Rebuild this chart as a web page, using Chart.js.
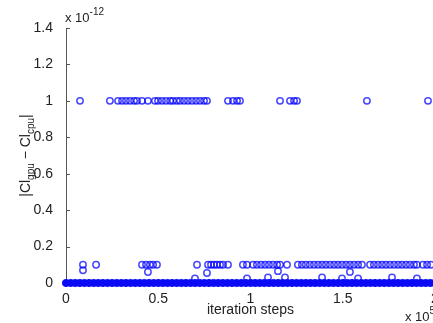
<!DOCTYPE html>
<html lang="en">
  <head>
    <meta charset="UTF-8" />
    <title>|Cl gpu - Cl cpu| over iteration steps</title>
    <style>
      html,
      body {
        margin: 0;
        padding: 0;
        background: #fff;
        overflow: hidden;
      }
      #wrap {
        width: 445px;
        height: 323px;
      }
    </style>
  </head>
  <body>
    <div id="wrap"><canvas id="diffChart" width="445" height="323"></canvas></div>

    <script src="https://cdn.jsdelivr.net/npm/chart.js@4/dist/chart.umd.min.js"></script>
    <script>
      // x: iteration steps (x 1e5), y: |Cl_gpu - Cl_cpu| (x 1e-12)
      var stepsAtOne = [
        0.076, 0.238, 0.282, 0.304, 0.325, 0.347, 0.369, 0.385, 0.412, 0.444,
        0.482, 0.499, 0.52, 0.542, 0.564, 0.58, 0.6, 0.618, 0.64, 0.661, 0.683,
        0.705, 0.726, 0.748, 0.764, 0.878, 0.905, 0.927, 0.943, 1.16, 1.214,
        1.236, 1.252, 1.631, 1.962,
      ];
      var stepsAtTenth = [
        0.092, 0.163, 0.412, 0.434, 0.455, 0.472, 0.493, 0.71, 0.77, 0.786,
        0.802, 0.818, 0.835, 0.851, 0.878, 0.959, 0.981, 1.014, 1.035, 1.057,
        1.079, 1.1, 1.122, 1.144, 1.16, 1.198, 1.257, 1.279, 1.3, 1.322, 1.344,
        1.366, 1.388, 1.409, 1.431, 1.453, 1.474, 1.496, 1.518, 1.539, 1.561,
        1.583, 1.604, 1.648, 1.669, 1.691, 1.713, 1.734, 1.756, 1.778, 1.8,
        1.821, 1.843, 1.864, 1.886, 1.902, 1.935, 1.957, 1.978,
      ];
      var stepsLow = [
        0.092, 0.444, 0.764, 1.149, 1.539, 0.699, 0.981, 1.095, 1.187, 1.388,
        1.496, 1.583, 1.767, 1.902,
      ];
      var diffLow = [
        0.07, 0.06, 0.055, 0.065, 0.06, 0.025, 0.025, 0.03, 0.03, 0.03, 0.025,
        0.025, 0.03, 0.025,
      ];
      var stepsAtZero = [
        0, 0.025, 0.05, 0.075, 0.1, 0.125, 0.15, 0.175, 0.2, 0.225, 0.25,
        0.275, 0.3, 0.325, 0.35, 0.375, 0.4, 0.425, 0.45, 0.475, 0.5, 0.525,
        0.55, 0.575, 0.6, 0.625, 0.65, 0.675, 0.7, 0.725, 0.75, 0.775, 0.8,
        0.825, 0.85, 0.875, 0.9, 0.925, 0.95, 0.975, 1, 1.025, 1.05, 1.075,
        1.1, 1.125, 1.15, 1.175, 1.2, 1.225, 1.25, 1.275, 1.3, 1.325, 1.35,
        1.375, 1.4, 1.425, 1.45, 1.475, 1.5, 1.525, 1.55, 1.575, 1.6, 1.625,
        1.65, 1.675, 1.7, 1.725, 1.75, 1.775, 1.8, 1.825, 1.85, 1.875, 1.9,
        1.925, 1.95, 1.975, 2,
      ];
      var xTicks = [0, 0.5, 1, 1.5, 2];
      var yTicks = [0, 0.2, 0.4, 0.6, 0.8, 1, 1.2, 1.4];

      var FONT = '"Liberation Sans", Arial, sans-serif';
      var INK = "#222";
      var MARK = "rgba(0, 0, 255, 0.72)";
      var BAND = "#0a0af5";

      function pointsAt(xs, y) {
        return xs.map(function (x) {
          return { x: x, y: y };
        });
      }

      var lowPoints = stepsLow.map(function (x, i) {
        return { x: x, y: diffLow[i] };
      });

      // draws a run of text pieces (for sub/superscripts), left aligned
      function drawPieces(ctx, pieces, x, y) {
        pieces.forEach(function (p) {
          ctx.font = p.size + "px " + FONT;
          ctx.fillText(p.t, x, y + (p.dy || 0));
          x += ctx.measureText(p.t).width;
        });
      }

      function piecesWidth(ctx, pieces) {
        var w = 0;
        pieces.forEach(function (p) {
          ctx.font = p.size + "px " + FONT;
          w += ctx.measureText(p.t).width;
        });
        return w;
      }

      var axisDecor = {
        id: "axisDecor",
        beforeDatasetsDraw: function (chart) {
          var ctx = chart.ctx;
          var area = chart.chartArea;
          var xs = chart.scales.x;
          var ys = chart.scales.y;
          ctx.save();
          ctx.strokeStyle = "#555";
          ctx.lineWidth = 1;
          ctx.beginPath();
          yTicks.forEach(function (v) {
            var y = Math.round(ys.getPixelForValue(v)) + 0.5;
            ctx.moveTo(area.left, y);
            ctx.lineTo(area.left + 4, y);
          });
          xTicks.forEach(function (v) {
            var x = Math.round(xs.getPixelForValue(v)) + 0.5;
            ctx.moveTo(x, area.bottom);
            ctx.lineTo(x, area.bottom - 4);
          });
          ctx.stroke();
          ctx.restore();
        },
        afterDraw: function (chart) {
          var ctx = chart.ctx;
          var area = chart.chartArea;
          ctx.save();
          ctx.fillStyle = INK;
          ctx.textBaseline = "middle";

          // exponent of the y axis
          drawPieces(ctx, [{ t: "x 10", size: 13 }, { t: "-12", size: 10, dy: -6 }], 65, 18);

          // exponent of the x axis
          drawPieces(ctx, [{ t: "x 10", size: 13 }, { t: "5", size: 10, dy: -6 }], 405, 317);

          // x axis title
          ctx.font = "14px " + FONT;
          ctx.textAlign = "center";
          ctx.fillText("iteration steps", (area.left + area.right) / 2, 310);

          // y axis title, rotated
          var yTitle = [
            { t: "|Cl", size: 14 },
            { t: "gpu", size: 10, dy: 4 },
            { t: " \u2212 Cl", size: 14 },
            { t: "cpu", size: 10, dy: 4 },
            { t: "|", size: 14 },
          ];
          ctx.textAlign = "left";
          ctx.textBaseline = "alphabetic";
          ctx.translate(30, (area.top + area.bottom) / 2);
          ctx.rotate(-Math.PI / 2);
          drawPieces(ctx, yTitle, -piecesWidth(ctx, yTitle) / 2, 0);
          ctx.restore();
        },
      };

      function markerSet(data, radius, border, color, fill) {
        return {
          data: data,
          pointStyle: "circle",
          pointRadius: radius,
          pointHoverRadius: radius,
          pointBorderWidth: border,
          pointBorderColor: color,
          pointBackgroundColor: fill || "rgba(0,0,0,0)",
          clip: false,
        };
      }

      function createChart() {
        var ctx = document.getElementById("diffChart").getContext("2d");
        var diffChart = new Chart(ctx, {
          type: "scatter",
          data: {
            datasets: [
              // the zero run is so dense that its circles merge into one band
              markerSet(pointsAt(stepsAtZero, 0), 3.6, 1, BAND, BAND),
              markerSet(lowPoints, 3.2, 1.5, MARK),
              markerSet(pointsAt(stepsAtTenth, 0.1), 3.2, 1.5, MARK),
              markerSet(pointsAt(stepsAtOne, 1), 3.2, 1.5, MARK),
            ],
          },
          options: {
            responsive: false,
            animation: false,
            events: [],
            layout: { padding: { top: 28, right: 10, left: 0, bottom: 0 } },
            plugins: {
              legend: { display: false },
              tooltip: { enabled: false },
            },
            scales: {
              x: {
                type: "linear",
                min: 0,
                max: 2,
                afterBuildTicks: function (scale) {
                  scale.ticks = xTicks.map(function (v) {
                    return { value: v };
                  });
                },
                afterFit: function (scale) {
                  scale.height = 40;
                },
                grid: { display: false },
                border: { display: true, color: "#555", width: 1 },
                ticks: {
                  color: INK,
                  padding: 0,
                  maxRotation: 0,
                  autoSkip: false,
                  font: { family: FONT, size: 14 },
                  callback: function (v) {
                    return String(v);
                  },
                },
              },
              y: {
                min: 0,
                max: 1.4,
                afterBuildTicks: function (scale) {
                  scale.ticks = yTicks.map(function (v) {
                    return { value: v };
                  });
                },
                afterFit: function (scale) {
                  scale.width = 66;
                },
                grid: { display: false },
                border: { display: true, color: "#555", width: 1 },
                ticks: {
                  color: INK,
                  padding: 5,
                  autoSkip: false,
                  font: { family: FONT, size: 14 },
                  callback: function (v) {
                    return String(v);
                  },
                },
              },
            },
          },
          plugins: [axisDecor],
        });
      }
      createChart();
    </script>
  </body>
</html>
